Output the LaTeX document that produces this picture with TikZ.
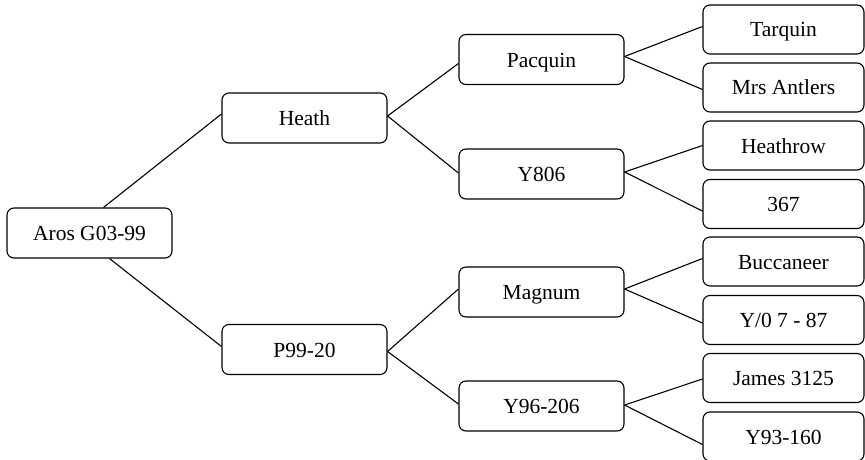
\documentclass[tikz,border=0pt]{standalone}
\usepackage{fontspec}
\setmainfont{Liberation Serif}
\begin{document}
\begin{tikzpicture}[x=1pt,y=-1pt,
  box/.style={draw, rounded corners=7pt, line width=1.1pt, minimum width=165pt, minimum height=50pt, inner sep=0pt, text height=15pt, text depth=0pt, font=\fontsize{21.5}{25}\selectfont},
  leaf/.style={box, minimum width=161pt, minimum height=49pt},
  conn/.style={line width=1.1pt}]
\useasboundingbox (0,0) rectangle (865,460);
\node[box] (root) at (89.5,233) {Aros G03-99};
\node[box] (heath) at (304.5,118) {Heath};
\node[box] (p99) at (304.5,349.5) {P99-20};
\node[box] (pacquin) at (541.5,59.5) {Pacquin};
\node[box] (y806) at (541.5,174) {Y806};
\node[box] (magnum) at (541.5,292) {Magnum};
\node[box] (y96) at (541.5,406) {Y96-206};
\node[leaf] (tarquin) at (783.5,29.5) {Tarquin};
\node[leaf] (mrs) at (783.5,87.5) {Mrs Antlers};
\node[leaf] (heathrow) at (783.5,145.5) {Heathrow};
\node[leaf] (n367) at (783.5,204) {367};
\node[leaf] (bucc) at (783.5,261.5) {Buccaneer};
\node[leaf] (y0) at (783.5,320) {Y/0 7 - 87};
\node[leaf] (james) at (783.5,378) {James 3125};
\node[leaf] (y93) at (783.5,436.5) {Y93-160};
% level 1
\draw[conn] ([xshift=14pt]root.north) -- ([yshift=4pt]heath.west);
\draw[conn] ([xshift=20pt]root.south) -- ([yshift=3pt]p99.west);
% level 2
\draw[conn] ([yshift=2pt]heath.east) -- ([yshift=-4pt]pacquin.west);
\draw[conn] ([yshift=2pt]heath.east) -- ([yshift=1pt]y806.west);
\draw[conn] ([yshift=-2pt]p99.east) -- ([yshift=3pt]magnum.west);
\draw[conn] ([yshift=-2pt]p99.east) -- ([yshift=2pt]y96.west);
% level 3
\draw[conn] ([yshift=3pt]pacquin.east) -- ([yshift=3pt]tarquin.west);
\draw[conn] ([yshift=3pt]pacquin.east) -- ([yshift=-2pt]mrs.west);
\draw[conn] ([yshift=2pt]y806.east) -- ([yshift=0pt]heathrow.west);
\draw[conn] ([yshift=2pt]y806.east) -- ([yshift=-7pt]n367.west);
\draw[conn] ([yshift=3pt]magnum.east) -- ([yshift=3pt]bucc.west);
\draw[conn] ([yshift=3pt]magnum.east) -- ([yshift=-3pt]y0.west);
\draw[conn] ([yshift=1pt]y96.east) -- ([yshift=-1pt]james.west);
\draw[conn] ([yshift=1pt]y96.east) -- ([yshift=-8pt]y93.west);
\end{tikzpicture}
\end{document}
